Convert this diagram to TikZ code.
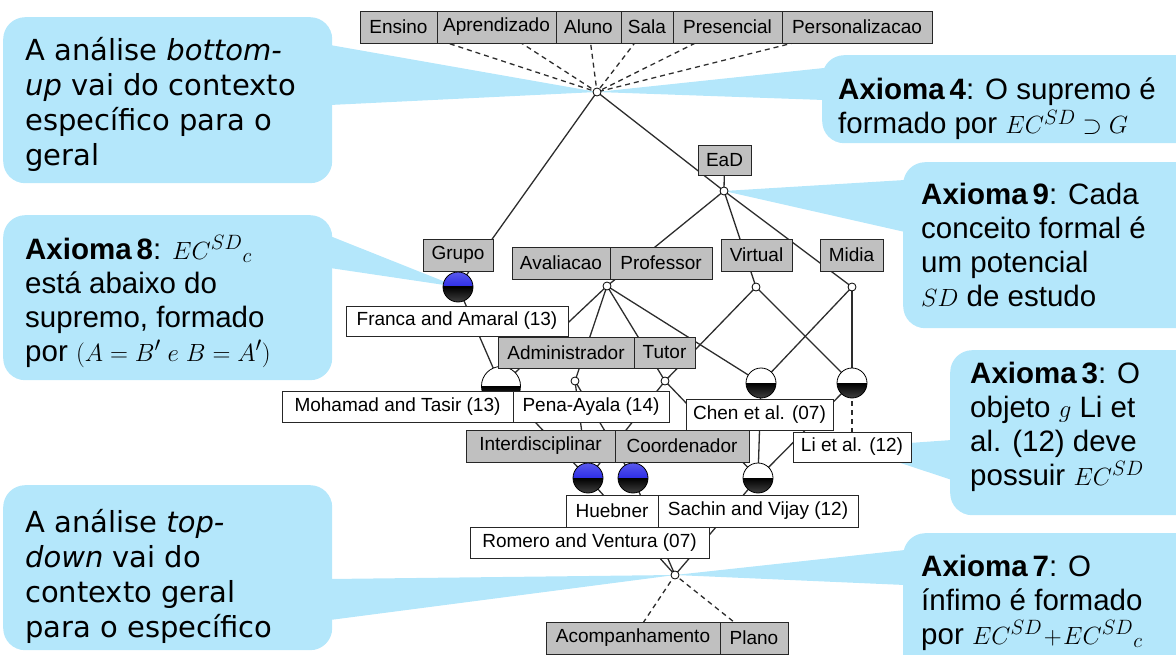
\documentclass[tikz,border=0pt]{standalone}
\usepackage{fontspec}
\setmainfont{Liberation Sans}
\newfontfamily\verdfont{DejaVu Sans}
\definecolor{bubble}{RGB}{180,231,251}
\definecolor{attrgray}{RGB}{192,192,192}
\definecolor{linegray}{RGB}{45,45,45}
\definecolor{ballblue}{RGB}{0,0,225}
\pgfdeclarelayer{bubbles}
\pgfdeclarelayer{edges}
\pgfsetlayers{bubbles,edges,main}
\begin{document}
\begin{tikzpicture}[x=1pt, y=-1pt,
  lbl/.style={draw=black!85, line width=0.9, inner sep=0pt, minimum height=31,
              font=\fontsize{19}{22}\selectfont},
  attr/.style={lbl, fill=attrgray},
  obj/.style={lbl, fill=white},
  dot/.style={circle, draw=black, fill=white, line width=0.8, inner sep=0pt, minimum size=8},
  conc/.style={circle, inner sep=0pt, minimum size=30, draw=black, line width=0.8,
     path picture={
       \shade[top color=#1!65!white, bottom color=#1]
         (path picture bounding box.north west) rectangle (path picture bounding box.east);
       \shade[top color=black, bottom color=black!75]
         (path picture bounding box.west) rectangle (path picture bounding box.south east);}},
  edge/.style={draw=linegray, line width=1.3},
  lblline/.style={draw=linegray, line width=1.3, dash pattern=on 5pt off 4pt},
  bubblebox/.style={fill=bubble, rounded corners=22, inner sep=0pt, anchor=north west},
  % multi-line texts are placed by the baseline of their last line
  axtext/.style={anchor=base west, align=left, inner sep=0pt, font=\fontsize{29.5}{34}\selectfont},
  antext/.style={anchor=base west, align=left, inner sep=0pt, font=\verdfont\fontsize{29}{35}\selectfont},
]
\useasboundingbox (0,0) rectangle (1176,655);

% concept nodes of the lattice
\node[dot] (top)  at (597,92) {};
\node[dot] (eadN) at (724,191) {};
\node[dot] (apN)  at (607,286) {};
\node[dot] (virtN) at (756,287) {};
\node[dot] (midN) at (852,287) {};
\node[dot] (admN) at (575,381) {};
\node[dot] (tutN) at (665,381) {};
\node[dot] (bot)  at (675,575) {};
\node[conc=ballblue] (grupoN) at (458,287) {};
\node[conc=white, minimum size=39] (mohN) at (501,386) {};
\node[conc=white] (chenN) at (761,383) {};
\node[conc=white] (liN) at (852,383) {};
\node[conc=ballblue] (b1) at (588,478) {};
\node[conc=ballblue] (b2) at (633,478) {};
\node[conc=white] (b3) at (758,478) {};

% attribute labels
\node[attr, minimum width=77, minimum height=32] (ensino) at (398.5,27) {Ensino};
\node[attr, minimum width=119, minimum height=32] (aprend) at (496.5,27) {Aprendizado};
\node[attr, minimum width=65, minimum height=32] (aluno) at (588.5,27) {Aluno};
\node[attr, minimum width=52, minimum height=32] (sala) at (647,27) {Sala};
\node[attr, minimum width=109, minimum height=32] (presen) at (727.5,27) {Presencial};
\node[attr, minimum width=150, minimum height=32] (person) at (857,27) {Personalizacao};
\node[attr, minimum width=53, minimum height=30] (ead) at (724.5,160) {EaD};
\node[attr, minimum width=70, minimum height=32] (grupo) at (458,255) {Grupo};
\node[attr, minimum width=98, minimum height=32] (aval) at (561,263) {Avaliacao};
\node[attr, minimum width=102, minimum height=32] (prof) at (661,263) {Professor};
\node[attr, minimum width=71, minimum height=32] (virtual) at (756.5,255) {Virtual};
\node[attr, minimum width=63, minimum height=32] (midia) at (851.5,255) {Midia};
\node[attr, minimum width=136] (admin) at (566,352.5) {Administrador};
\node[attr, minimum width=61] (tutor) at (664.5,352.5) {Tutor};
\node[attr, minimum width=149, minimum height=32] (interd) at (540.5,446) {Interdisciplinar};
\node[attr, minimum width=134, minimum height=32] (coord) at (682,446) {Coordenador};
\node[attr, minimum width=174, minimum height=32] (acomp) at (633,638) {Acompanhamento};
\node[attr, minimum width=68, minimum height=32] (plano) at (754,638) {Plano};

% object labels
\node[obj, minimum width=222, minimum height=30] (franca) at (457,321) {Franca and Amaral (13)};
\node[obj, minimum width=231] (mohamad) at (397.5,406.5) {Mohamad and Tasir (13)};
\node[obj, minimum width=156] (pena) at (591,406.5) {Pena-Ayala (14)};
\node[obj, minimum width=147] (chen) at (759.5,414.5) {Chen et al. (07)};
\node[obj, minimum width=118, minimum height=30] (li) at (852,447) {Li et al. (12)};
\node[obj, minimum width=92, minimum height=32] (huebner) at (612,511) {Huebner};
\node[obj, minimum width=200, minimum height=32] (sachin) at (758,511) {Sachin and Vijay (12)};
\node[obj, minimum width=239] (romero) at (589.5,542.5) {Romero and Ventura (07)};

\begin{pgfonlayer}{edges}
  % label connectors
  \foreach \a in {ensino,aprend,aluno,sala,presen,person}
    \draw[lblline] (\a.center) -- (top.center);
  \draw[lblline] (acomp.center) -- (bot.center);
  \draw[lblline] (plano.center) -- (bot.center);
  \draw[lblline] (liN.center) -- (li.center);
  % order relation of the lattice
  \draw[edge] (top.center) -- (grupoN.center);
  \draw[edge] (top.center) -- (eadN.center);
  \draw[edge] (ead.center) -- (eadN.center);
  \draw[edge] (eadN.center) -- (apN.center);
  \draw[edge] (eadN.center) -- (virtN.center);
  \draw[edge] (eadN.center) -- (midN.center);
  \draw[edge] (grupoN.center) -- (mohN.center);
  \draw[edge] (apN.center) -- (mohN.center);
  \draw[edge] (apN.center) -- (admN.center);
  \draw[edge] (apN.center) -- (tutN.center);
  \draw[edge] (apN.center) -- (chenN.center);
  \draw[edge] (virtN.center) -- (tutN.center);
  \draw[edge] (virtN.center) -- (liN.center);
  \draw[edge] (midN.center) -- (chenN.center);
  \draw[edge] (midN.center) -- (liN.center);
  \draw[edge] (mohN.center) -- (b1.center);
  \draw[edge] (admN.center) -- (b1.center);
  \draw[edge] (admN.center) -- (b2.center);
  \draw[edge] (tutN.center) -- (b1.center);
  \draw[edge] (tutN.center) -- (b3.center);
  \draw[edge] (chenN.center) -- (b3.center);
  \draw[edge] (liN.center) -- (b3.center);
  \draw[edge] (b1.center) -- (bot.center);
  \draw[edge] (b2.center) -- (bot.center);
  \draw[edge] (b3.center) -- (bot.center);
\end{pgfonlayer}

\begin{pgfonlayer}{bubbles}
  \node[bubblebox, minimum width=329, minimum height=166] (bubUp) at (3,17) {};
  \node[bubblebox, minimum width=380, minimum height=88] (bubA4) at (822,55) {};
  \node[bubblebox, minimum width=300, minimum height=166] (bubA9) at (903,162) {};
  \node[bubblebox, minimum width=329, minimum height=165] (bubA8) at (3,215) {};
  \node[bubblebox, minimum width=250, minimum height=165] (bubA3) at (950,350) {};
  \node[bubblebox, minimum width=300, minimum height=150] (bubA7) at (903,533) {};
  \node[bubblebox, minimum width=329, minimum height=165] (bubDown) at (3,485) {};
  % pointers from the bubbles to the concepts
  \coordinate (pUp1) at (330,45);   \coordinate (pUp2) at (330,105);
  \coordinate (pA41) at (824,68);   \coordinate (pA42) at (824,100);
  \coordinate (pA91) at (905,180);  \coordinate (pA92) at (905,232);
  \coordinate (pA81) at (330,236);  \coordinate (pA82) at (330,268);
  \coordinate (pA31) at (952,440);  \coordinate (pA32) at (952,480);
  \coordinate (pA71) at (905,550);  \coordinate (pA72) at (905,585);
  \coordinate (pDn1) at (330,579);  \coordinate (pDn2) at (330,620);
  \fill[bubble] (pUp1) -- (top.center) -- (pUp2) -- cycle;
  \fill[bubble] (pA41) -- (top.center) -- (pA42) -- cycle;
  \fill[bubble] (pA91) -- (eadN.center) -- (pA92) -- cycle;
  \fill[bubble] (pA81) -- (grupoN.center) -- (pA82) -- cycle;
  \fill[bubble] (pA31) -- (li.center) -- (pA32) -- cycle;
  \fill[bubble] (pA71) -- (bot.center) -- (pA72) -- cycle;
  \fill[bubble] (pDn1) -- (bot.center) -- (pDn2) -- cycle;
\end{pgfonlayer}

% bubble texts
\node[antext] (tUp) at (25,166) {A análise \textit{bottom-}\\\textit{up} vai do contexto\\específico para o\\geral};
\node[antext] (tDown) at (25,637) {A análise \textit{top-}\\\textit{down} vai do\\contexto geral\\para o específico};
\node[axtext] (tA4) at (838,134) {\textbf{Axioma\,4}: O supremo é\\formado por $EC^{SD}\supset G$};
\node[axtext] (tA9) at (921,306) {\textbf{Axioma\,9}: Cada\\conceito formal é\\um potencial\\$SD$ de estudo};
\node[axtext] (tA8) at (25,361) {\textbf{Axioma\,8}: ${EC^{SD}}_c$\\está abaixo do\\supremo, formado\\por $(A=B'\;e\;B=A')$};
\node[axtext] (tA3) at (970,485) {\textbf{Axioma\,3}: O\\objeto $g$ Li et\\al. (12) deve\\possuir $EC^{SD}$};
\node[axtext] (tA7) at (921,644) {\textbf{Axioma\,7}: O\\ínfimo é formado\\por $EC^{SD}\!+\!{EC^{SD}}_c$};
\end{tikzpicture}
\end{document}
